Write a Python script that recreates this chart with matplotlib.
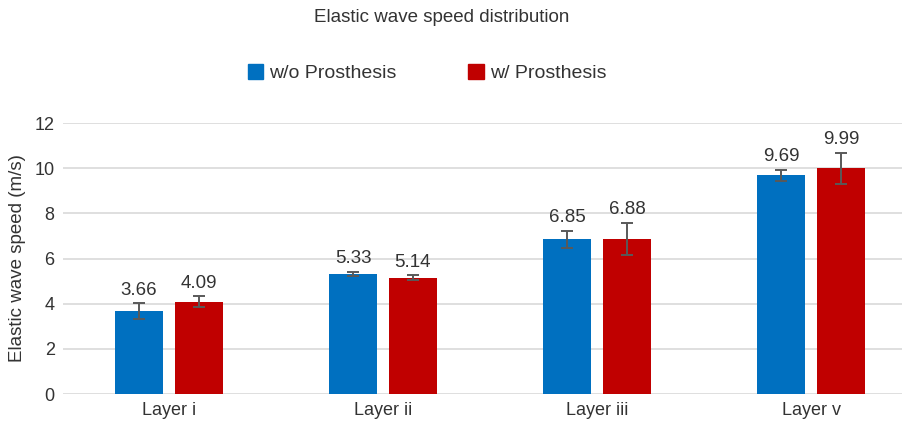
import numpy as np
import matplotlib.pyplot as plt
from matplotlib.patches import Patch

plt.rcParams['font.family'] = ['Liberation Sans', 'DejaVu Sans']

# data
layers = ['Layer i', 'Layer ii', 'Layer iii', 'Layer v']
without_prosthesis = [3.66, 5.33, 6.85, 9.69]
with_prosthesis = [4.09, 5.14, 6.88, 9.99]
without_err = [0.36, 0.09, 0.38, 0.25]
with_err = [0.25, 0.11, 0.71, 0.70]

blue = '#0070C0'
red = '#C00000'
txt = '#333333'

fig = plt.figure(figsize=(9.02, 4.23), dpi=100)
ax = fig.add_axes([63 / 902, 29 / 423, 1 - 63 / 902, 271 / 423])

x = np.arange(len(layers))
w = 0.225
off = 0.14
err_kw = dict(ecolor='#595959', elinewidth=1.4, capsize=4.5, capthick=1.4)

ax.bar(x - off, without_prosthesis, w, color=blue, yerr=without_err, error_kw=err_kw, zorder=3)
ax.bar(x + off, with_prosthesis, w, color=red, yerr=with_err, error_kw=err_kw, zorder=3)

# value labels above the error bars
for xs, vals, errs in [(x - off, without_prosthesis, without_err), (x + off, with_prosthesis, with_err)]:
    for xi, v, e in zip(xs, vals, errs):
        ax.annotate(f'{v:.2f}', (xi, v + e), xytext=(0, 6), textcoords='offset points',
                    ha='center', va='baseline', fontsize=13.5, color=txt)

ax.set_ylim(0, 12)
ax.set_yticks(range(0, 13, 2))
ax.set_xlim(-0.495, 3.425)
ax.set_xticks(x)
ax.set_xticklabels(layers)
ax.tick_params(axis='both', length=0, labelsize=13, labelcolor=txt)
ax.tick_params(axis='y', pad=6)
ax.tick_params(axis='x', pad=6)
ax.grid(axis='y', color='#D9D9D9', linewidth=1.2, zorder=0)
for s in ax.spines.values():
    s.set_visible(False)
ax.set_ylabel('Elastic wave speed (m/s)', fontsize=13.5, color=txt, labelpad=6)

fig.text(442 / 902, 1 - 18 / 423, 'Elastic wave speed distribution', ha='center', va='center',
         fontsize=13.5, color=txt)

handles = [Patch(color=blue, label='w/o Prosthesis'), Patch(color=red, label='w/ Prosthesis')]
fig.legend(handles=handles, loc='center', bbox_to_anchor=(427 / 902, 1 - 73 / 423), ncol=2,
           frameon=False, fontsize=14, handlelength=0.8, handleheight=0.8,
           handletextpad=0.3, columnspacing=3.7, labelcolor=txt)

plt.savefig('out.png', dpi=100)
